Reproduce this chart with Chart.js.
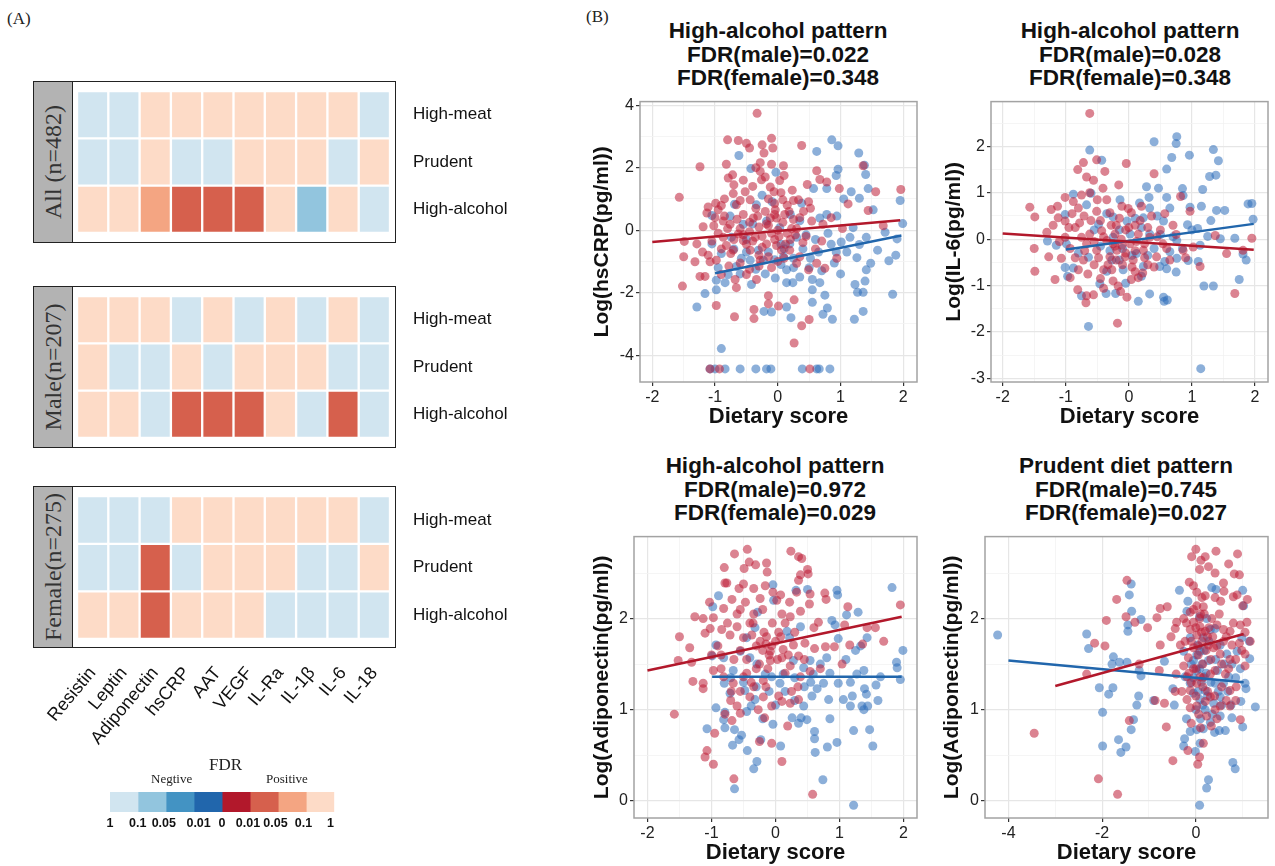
<!DOCTYPE html>
<html>
<head>
<meta charset="utf-8">
<script src="https://cdn.jsdelivr.net/npm/chart.js@4.4.1/dist/chart.umd.min.js"></script>
<style>
  body { margin:0; background:#fff; width:1275px; height:866px; position:relative; overflow:hidden; font-family:"Liberation Sans", Arial, sans-serif; }
  canvas, .abs { position:absolute; }
  .serif { font-family:"Liberation Serif", "Times New Roman", serif; color:#222; }
  .box { position:absolute; left:33px; width:363px; height:162px; border:1.5px solid #222; box-sizing:border-box; }
  .strip { position:absolute; left:0; top:0; bottom:0; width:38px; background:#b3b3b3; border-right:1.5px solid #222; }
  .strip span { position:absolute; left:50%; top:50%; transform:translate(-50%,-50%) rotate(-90deg); white-space:nowrap; font-size:24px; color:#333; }
  .title { position:absolute; width:360px; text-align:center; font-weight:bold; font-size:22.5px; line-height:23.5px; color:#111; }
</style>
</head>
<body>

<div class="abs serif" style="left:7px;top:9px;font-size:17px">(A)</div>
<div class="abs serif" style="left:586px;top:7px;font-size:17px">(B)</div>

<!-- heatmap frames with group strips -->
<div class="box" style="top:81px"><div class="strip serif"><span>All (n=482)</span></div></div>
<div class="box" style="top:286px"><div class="strip serif"><span>Male(n=207)</span></div></div>
<div class="box" style="top:486px"><div class="strip serif"><span>Female(n=275)</span></div></div>

<canvas id="heatAll" width="590" height="162" style="left:0;top:81px"></canvas>
<canvas id="heatMale" width="590" height="162" style="left:0;top:286px"></canvas>
<canvas id="heatFemale" width="590" height="272" style="left:0;top:486px"></canvas>

<div class="abs serif" style="left:209px;top:755px;font-size:17px">FDR</div>
<div class="abs serif" style="left:151px;top:771px;font-size:13px">Negtive</div>
<div class="abs serif" style="left:266px;top:771px;font-size:13px">Positive</div>
<canvas id="legendBar" width="265" height="46" style="left:90px;top:790px"></canvas>

<!-- scatter titles -->
<div class="title" style="left:598px;top:19px">High-alcohol pattern<br>FDR(male)=0.022<br>FDR(female)=0.348</div>
<div class="title" style="left:950px;top:19px">High-alcohol pattern<br>FDR(male)=0.028<br>FDR(female)=0.348</div>
<div class="title" style="left:595px;top:454px">High-alcohol pattern<br>FDR(male)=0.972<br>FDR(female)=0.029</div>
<div class="title" style="left:946px;top:454px">Prudent diet pattern<br>FDR(male)=0.745<br>FDR(female)=0.027</div>

<canvas id="scCrp" width="335" height="340" style="left:590px;top:90px"></canvas>
<canvas id="scIl6" width="333" height="340" style="left:942px;top:90px"></canvas>
<canvas id="scAdipoAlc" width="335" height="341" style="left:590px;top:525px"></canvas>
<canvas id="scAdipoPru" width="335" height="341" style="left:940px;top:525px"></canvas>

<script>
// ---- heatmap data (index into fdrColors) ----
const markers = ['Resistin', 'Leptin', 'Adiponectin', 'hsCRP', 'AAT', 'VEGF', 'IL-Ra', 'IL-1β', 'IL-6', 'IL-18'];
const patterns = ['High-meat', 'Prudent', 'High-alcohol'];
// 0..3 negative (FDR >0.1, 0.05-0.1, 0.01-0.05, <0.01), 4..7 positive (<0.01, 0.01-0.05, 0.05-0.1, >0.1)
const fdrColors = ['#d1e5f0', '#92c5de', '#4393c3', '#2166ac', '#b2182b', '#d6604d', '#f4a582', '#fddbc7'];
const legendTicks = ['1', '0.1', '0.05', '0.01', '0', '0.01', '0.05', '0.1', '1'];
const legendTickPos = [0, 0.99, 1.92, 3.16, 3.99, 4.92, 5.9, 6.9, 7.86];

const allMeat     = [0,0,7,7,7,7,7,7,7,0];
const allPrudent  = [0,0,7,0,0,7,7,7,0,7];
const allAlcohol  = [7,7,6,5,5,5,7,1,7,0];
const maleMeat    = [7,7,7,0,7,0,7,0,7,0];
const malePrudent = [7,0,0,7,0,7,7,7,0,0];
const maleAlcohol = [7,7,0,5,5,5,7,0,5,0];
const femaleMeat    = [0,0,0,7,7,7,7,7,7,0];
const femalePrudent = [0,0,5,0,7,7,7,0,0,7];
const femaleAlcohol = [7,7,5,7,7,7,0,0,0,0];

// ---- scatter data [dietary score, log value] ----
const crpFemale = [[-0.33,3.74],[-0.80,2.89],[-0.63,2.87],[-0.50,2.78],[-0.45,2.63],[-0.10,2.94],[-0.08,2.63],[-0.25,2.73],[-0.22,2.47],[0.38,2.71],
 [-1.24,2.03],[-0.82,2.11],[-0.28,2.16],[-0.10,2.11],[0.09,2.06],[1.36,2.06],[-0.79,1.67],[-0.72,1.77],[-0.28,1.88],[-0.26,1.61],
 [0.03,1.59],[0.47,1.46],[0.62,1.90],[0.67,1.62],[0.78,1.54],[0.98,1.33],[1.56,1.23],[1.96,1.30],[-1.57,1.05],[-1.11,0.74],
 [-0.99,0.86],[-0.90,0.79],[-0.71,1.17],[-0.66,0.81],[-0.52,1.23],[-0.44,0.97],[-0.12,1.38],[-0.06,1.23],[0.08,0.97],[0.23,1.28],
 [0.33,0.97],[0.49,0.91],[1.12,0.84],[1.44,0.63],[-1.13,0.55],[-1.19,0.11],[-1.02,0.14],[-0.87,0.29],[-0.76,0.19],[-0.55,0.50],
 [-0.39,0.39],[-0.20,0.60],[-0.12,0.39],[-0.04,0.65],[-0.02,0.39],[0.11,0.50],[0.25,0.34],[0.41,0.60],[0.54,0.29],[0.72,0.19],
 [1.03,0.05],[1.68,0.14],[-1.49,-0.36],[-1.29,-0.44],[-1.32,-1.01],[-1.50,-0.85],[-1.11,-0.80],[-1.08,-1.01],[-0.98,-0.96],[-0.87,-0.23],
 [-0.82,-0.49],[-0.71,-0.64],[-0.63,-0.12],[-0.55,-0.33],[-0.44,-0.64],[-0.36,-0.23],[-0.28,-0.96],[-0.18,-0.44],[-0.02,-0.49],[0.06,-0.64],
 [0.19,-0.64],[0.30,-1.06],[0.49,-1.27],[0.62,-1.06],[0.75,-1.22],[0.94,-0.90],[-1.24,-1.48],[-1.16,-1.48],[-0.90,-1.42],[-0.68,-1.58],
 [-0.66,-1.84],[-0.50,-1.42],[-0.34,-1.58],[-1.52,-1.79],[-0.98,-2.41],[-0.15,-2.10],[-0.15,-2.36],[0.01,-2.43],[-0.38,-2.54],[-0.38,-2.83],
 [-0.69,-2.77],[0.26,-2.23],[0.38,-3.06],[0.50,-2.86],[0.26,-3.61],[0.51,-4.44],[-0.93,-4.44],[-1.08,-4.44],
 [-0.60,0.05],[-0.45,-0.05],[-0.30,0.10],[-0.15,0.15],[0.00,0.00],[0.15,-0.10],[0.30,0.05],[-0.70,-0.30],[-0.50,-0.45],[-0.25,-0.20],
 [-0.05,-0.30],[0.20,-0.30],[0.40,-0.40],[-0.85,0.45],[-0.35,0.70],[-0.05,0.85],[0.15,0.80],[-0.60,0.95],[-0.40,1.40],[-0.15,1.00],
 [0.05,1.20],[-0.95,-0.10],[-0.75,-0.75],[-0.30,-0.80],[0.10,-0.90],[-0.10,-1.20],[-1.00,0.40],
 [-0.95,0.65],[-0.80,0.05],[-0.65,0.35],[-0.55,-0.15],[-0.45,0.25],[-0.40,-0.35],[-0.32,0.45],[-0.25,-0.55],[-0.18,0.20],[-0.10,-0.10],
 [-0.05,0.50],[0.02,-0.20],[0.08,0.25],[0.12,-0.45],[0.18,0.60],[0.22,0.05],[0.28,-0.15],[0.35,0.40],[0.45,-0.20],[0.52,0.70],
 [0.60,-0.60],[0.70,-0.35],[0.85,0.40],[-0.90,-0.60],[-0.78,-1.15],[-0.60,-1.05],[-0.45,-1.25],[-0.30,-1.15],[-0.15,-0.85],[0.00,-1.00],
 [0.35,-0.85],[-0.70,1.45],[-0.55,1.60],[-0.35,2.00],[-0.20,1.70],[0.10,1.75],[0.25,0.95],[-1.05,-0.35],[-1.20,-0.70],[-0.85,1.00]];
const crpMale = [[0.86,2.89],[0.96,2.70],[1.29,2.47],[0.62,2.52],[-0.62,2.39],[-0.43,1.97],[-0.03,1.85],[0.96,1.95],[0.93,1.75],[1.40,1.78],
 [1.38,2.08],[0.57,1.33],[0.78,1.33],[1.17,1.23],[1.44,1.33],[1.30,1.02],[1.05,1.00],[-0.25,1.12],[-0.69,0.83],[-0.76,0.45],
 [-1.05,0.47],[-0.34,0.81],[-0.09,0.91],[0.38,0.86],[0.94,0.45],[0.78,0.50],[0.67,0.39],[1.20,0.08],[1.52,0.65],[1.95,0.95],
 [1.99,0.21],[1.71,-0.07],[1.90,-0.28],[1.59,-0.64],[1.30,-0.46],[1.41,-0.23],[1.15,-0.23],[1.01,-0.38],[0.93,-0.70],[1.26,-0.88],
 [1.48,-1.06],[1.41,-1.27],[1.77,-0.98],[1.88,-0.80],[1.83,-2.05],[1.23,-1.74],[1.39,-1.63],[1.36,-1.99],[1.27,-1.99],[1.36,-2.60],
 [1.22,-2.85],[0.87,-2.85],[0.79,-2.49],[0.72,-2.69],[0.75,-2.08],[0.67,-1.68],[0.55,-1.91],[0.55,-2.31],[0.55,-1.58],[0.52,-0.90],
 [0.30,-0.23],[0.19,-0.44],[0.09,-0.85],[0.14,-1.27],[-0.04,-1.53],[0.14,-1.68],[0.24,-1.68],[0.21,-2.80],[0.14,-2.46],[-0.22,-2.60],
 [-0.10,-2.62],[-0.23,-0.96],[-0.31,-0.64],[-0.44,-0.96],[-0.42,-1.74],[-0.58,-0.90],[-0.66,-1.16],[-0.79,-1.42],[-0.84,-1.68],[-0.98,-1.60],
 [-0.98,-1.91],[-1.16,-2.03],[-1.29,-2.46],[-0.90,-3.79],[-1.05,-0.44],[-0.74,-0.23],[-0.55,0.19],[-0.18,0.29],[0.03,0.08],
 [-1.08,-4.44],[-1.00,-4.44],[-0.84,-4.44],[-0.60,-4.44],[-0.35,-4.44],[-0.18,-4.44],[-0.11,-4.44],[0.39,-4.44],[0.62,-4.44],[0.66,-4.44],[0.83,-4.44],
 [0.40,-0.60],[0.05,-0.45],[-0.15,-0.70],[0.60,-0.30],[0.80,-0.10],[0.35,0.30],[-0.50,-0.30],[0.25,-1.20],[0.70,-1.30],[1.00,-1.40],
 [-0.90,-0.75],[-0.70,-0.60],[-0.60,-1.40],[-0.35,-1.25],[-0.20,-1.40],[-0.05,-0.95],[0.05,-1.10],[0.25,-0.90],[0.35,-1.50],[0.45,-0.15],
 [0.65,-0.70],[0.85,-0.45],[1.10,-0.70],[0.20,0.50],[-0.40,0.20],[0.10,-0.60],[0.50,-1.20],[-0.95,-1.20],[-0.50,-0.70],[0.90,-1.05]];
const crpFemaleFit = [[-2,-0.38],[1.95,0.32]];
const crpMaleFit = [[-1,-1.38],[1.97,-0.17]];

const il6Female = [[-0.62,2.71],[-0.81,1.50],[-0.72,1.65],[-0.67,1.34],[-0.56,1.27],[-0.51,1.71],[-0.38,1.46],[-0.04,1.63],[-0.16,1.17],[-0.41,1.10],
 [-0.62,1.00],[-1.01,0.90],[-0.88,0.81],[-0.75,0.95],[0.40,1.41],[-1.57,0.69],[-1.49,0.48],[-1.23,0.64],[-1.13,0.71],[-1.12,0.46],
 [-1.01,0.39],[-0.80,0.67],[-0.71,0.50],[-0.51,0.60],[-0.30,0.57],[-0.11,0.71],[-0.01,0.66],[0.04,0.57],[0.20,0.71],[0.36,0.50],
 [0.57,0.55],[0.82,0.92],[0.97,0.60],[-1.30,0.15],[-1.27,-0.38],[-1.50,-0.20],[-1.49,-0.69],[-1.17,-0.87],[-1.07,-0.41],[-1.01,0.04],
 [-0.93,-0.20],[-0.85,0.25],[-0.75,0.04],[-0.67,-0.10],[-0.80,-0.66],[-0.93,-0.83],[-0.72,-0.45],[-0.62,0.11],[-0.51,-0.24],[-0.43,0.18],
 [-0.35,-0.03],[-0.30,-0.38],[-0.22,0.11],[-0.19,-0.24],[-0.11,-0.13],[-0.06,-0.38],[0.02,-0.10],[0.07,-0.45],[0.15,0.11],[0.23,-0.24],
 [0.33,0.04],[0.44,-0.38],[0.54,-0.10],[0.65,-0.45],[0.86,-0.24],[1.02,-0.17],[1.13,-0.59],[1.37,0.08],[1.55,-0.31],[1.81,-0.24],
 [1.95,0.02],[1.68,-1.17],[-0.81,-1.09],[-0.67,-1.22],[-0.56,-1.20],[-0.68,-1.37],[-0.40,-1.06],[-0.17,-1.01],[-0.13,-1.13],[-0.03,-1.25],
 [0.04,-0.87],[0.15,-0.83],[0.22,-0.73],[-0.18,-1.81],[-0.40,-0.66],[-0.27,-0.66],
 [-0.20,0.30],[-0.05,0.20],[0.10,0.30],[-0.45,0.40],[-0.25,-0.10],[-0.10,-0.55],[0.10,-0.25],[0.30,-0.55],[-0.55,-0.55],[-0.35,0.85],
 [0.50,0.20],[0.75,0.10],
 [-0.95,0.25],[-0.85,-0.40],[-0.78,0.35],[-0.70,-0.25],[-0.60,0.40],[-0.55,-0.05],[-0.48,-0.40],[-0.40,0.05],[-0.33,-0.55],[-0.28,0.30],
 [-0.22,-0.15],[-0.15,0.45],[-0.12,0.00],[-0.05,-0.30],[0.00,0.25],[0.05,-0.60],[0.12,-0.05],[0.18,0.40],[0.25,-0.40],[0.30,0.25],
 [0.40,-0.60],[0.45,0.05],[0.60,-0.20],[0.70,0.30],[0.90,-0.40],[-1.10,-0.05],[-1.20,0.30],[-0.65,-0.75],[-0.45,-0.85],[-0.25,-0.90],
 [0.10,-0.70],[-0.90,0.55],[-0.50,0.85],[-0.20,-0.45],[0.25,-0.10]];
const il6Male = [[0.76,2.21],[0.75,2.06],[0.40,2.10],[-0.62,1.92],[-0.43,1.70],[0.68,1.76],[0.96,1.81],[1.34,1.93],[1.42,1.69],[1.28,1.35],
 [1.38,1.38],[0.60,1.51],[0.28,1.13],[0.47,1.10],[1.17,1.07],[0.86,0.94],[0.85,1.09],[0.32,0.90],[0.17,0.78],[-0.14,0.85],
 [-0.88,0.97],[-0.67,0.74],[-0.60,0.99],[-0.35,0.55],[-0.25,0.48],[-0.03,0.39],[0.23,0.46],[0.33,0.67],[0.55,0.39],[0.65,0.67],
 [0.97,0.69],[1.15,0.71],[1.39,0.62],[1.52,0.62],[1.89,0.76],[1.95,0.77],[1.97,0.43],[0.93,0.31],[1.09,0.23],[1.25,0.06],
 [1.45,0.01],[1.68,0.02],[1.81,-0.32],[1.86,-0.45],[1.75,-0.87],[1.34,-1.01],[1.19,-1.01],[1.14,-2.79],[1.13,-0.13],[0.94,-0.46],
 [1.10,-0.48],[0.76,-0.03],[0.65,-0.27],[0.76,-0.41],[0.57,-0.48],[0.49,-0.59],[0.60,-0.64],[0.75,-0.71],[0.55,-1.25],[0.56,-1.34],
 [0.61,-1.31],[0.33,-1.18],[0.15,-1.34],[0.23,-0.59],[0.12,-0.31],[-0.09,-0.66],[-0.15,-0.45],[-0.27,-0.45],[-0.35,-0.69],[-0.46,-0.96],
 [-0.36,-1.17],[-0.21,-1.17],[-0.64,-0.39],[-0.88,-0.62],[-1.01,-0.61],[-0.97,-0.80],[-0.75,-1.22],[-0.64,-1.88],[-0.99,-0.10],[-1.15,-0.13],
 [-1.29,-0.04],[-1.01,0.53],[-0.48,0.32],[-0.25,0.04],[0.02,0.11],[0.33,0.11],
 [0.40,-0.20],[0.20,0.25],[-0.10,-0.20],[0.50,0.10],[-0.45,-0.15],
 [-0.80,-0.30],[-0.55,0.20],[-0.30,-0.25],[-0.15,0.20],[0.05,-0.35],[0.10,0.45],[0.30,-0.35],[0.45,0.50],[0.70,0.05],[0.85,-0.20],
 [1.00,0.20],[0.20,-0.80],[-0.05,-0.95],[0.60,0.90],[1.30,0.40]];
const il6FemaleFit = [[-2,0.12],[1.98,-0.23]];
const il6MaleFit = [[-1,-0.22],[1.98,0.33]];

const adipoAlcFemale = [[-0.44,2.76],[-0.64,2.71],[0.24,2.74],[0.36,2.68],[0.41,2.66],[-0.41,2.62],[-0.31,2.59],[-0.14,2.61],[-0.80,2.56],[-0.49,2.55],
 [0.50,2.54],[0.39,2.48],[0.51,2.49],[-0.13,2.51],[-0.79,2.39],[-0.76,2.39],[-0.50,2.38],[-0.57,2.33],[-0.34,2.33],[-0.16,2.36],
 [0.36,2.42],[-0.04,2.29],[0.08,2.26],[0.33,2.29],[0.54,2.27],[0.77,2.28],[0.79,2.21],[-1.03,2.18],[-0.68,2.21],[-0.47,2.18],
 [-0.24,2.22],[0.02,2.20],[0.22,2.18],[0.39,2.08],[0.53,2.16],[1.13,2.13],[1.95,2.15],[-1.26,2.02],[-1.13,2.00],[-0.97,2.01],
 [-0.81,2.11],[-0.60,2.05],[-0.34,2.05],[0.23,2.02],[0.67,1.96],[1.08,1.93],[1.43,1.90],[1.56,1.90],[1.69,1.75],[-1.50,1.80],
 [-1.34,1.68],[-1.10,1.84],[-1.02,1.89],[-0.84,1.88],[-0.71,1.82],[-0.60,1.91],[-0.50,1.79],[-0.37,1.82],[-0.24,1.75],[-0.14,1.80],
 [-0.06,1.70],[-0.08,1.64],[0.00,1.75],[0.12,1.66],[0.28,1.71],[0.46,1.73],[0.61,1.67],[0.78,1.69],[0.92,1.69],[1.16,1.71],
 [1.36,1.72],[-1.52,1.54],[-1.31,1.52],[-1.29,1.31],[-1.13,1.29],[-1.13,1.23],[-0.97,1.43],[-0.81,1.36],[-0.66,1.29],[-0.50,1.36],
 [-0.34,1.25],[-0.19,1.32],[-0.08,1.54],[0.10,1.57],[0.23,1.48],[0.39,1.36],[0.54,1.42],[0.36,1.59],[1.04,1.50],[-0.69,1.20],
 [-0.60,1.04],[-0.40,1.14],[-0.27,1.00],[-0.19,1.14],[-0.06,1.04],[0.10,1.09],[0.23,1.07],[0.36,1.11],[-0.79,0.95],[-0.68,0.88],
 [-0.55,0.96],[-0.17,0.91],[0.19,0.82],[-1.58,0.95],[-0.95,0.74],[-1.07,0.55],[-1.10,0.48],[-0.97,0.40],[-0.65,0.24],[-0.25,0.65],
 [-0.06,0.63],[0.10,0.43],[0.58,0.07],
 [-0.15,1.72],[-0.10,1.60],[-0.20,1.65],[-0.45,1.55],[-0.30,1.45],[0.05,1.85],[-0.55,1.65],[-0.85,1.60],[-0.35,1.95],[0.15,1.95],
 [-0.90,1.70],[-0.75,1.95],[-0.65,1.55],[-0.55,2.10],[-0.45,1.40],[-0.40,1.95],[-0.30,1.70],[-0.25,1.50],[-0.18,1.85],[-0.12,1.45],
 [-0.05,1.95],[0.03,1.55],[0.08,1.80],[0.15,1.40],[0.20,1.60],[0.30,1.85],[0.35,1.25],[0.45,1.55],[-0.85,1.45],[-0.70,1.10],
 [-0.55,1.20],[-0.38,1.30],[-0.15,1.25],[0.05,1.15],[0.25,1.20],[0.60,1.90],[0.70,1.45],[-1.00,1.60],[-0.20,2.10],[0.10,2.05]];
const adipoAlcMale = [[1.82,2.34],[0.96,2.31],[0.97,2.26],[0.50,2.32],[0.32,2.31],[-0.04,2.37],[-0.03,2.20],[-0.89,2.25],[-0.98,2.13],[-0.28,2.07],
 [-0.32,1.90],[-0.45,1.79],[0.18,1.86],[0.22,1.79],[0.39,1.91],[0.88,1.98],[0.93,1.93],[0.98,1.78],[1.29,2.07],[1.11,2.04],
 [1.43,1.79],[1.33,1.70],[1.99,1.65],[1.89,1.52],[1.90,1.46],[1.95,1.33],[1.64,1.36],[1.57,1.27],[1.38,1.43],[1.27,1.39],
 [1.17,1.30],[1.39,1.23],[1.42,1.17],[1.20,1.15],[1.06,1.11],[1.17,1.04],[1.35,1.04],[1.38,1.00],[1.44,1.04],[0.98,1.29],
 [0.83,1.11],[0.85,0.90],[0.49,0.89],[0.40,0.91],[0.36,0.85],[0.26,0.91],[0.44,1.04],[0.57,1.15],[0.65,1.23],[0.75,1.29],
 [0.80,1.57],[0.70,1.50],[0.59,1.39],[0.54,1.54],[0.44,1.46],[0.28,1.54],[0.12,1.39],[0.07,1.29],[-0.06,1.36],[-0.16,1.39],
 [-0.29,1.50],[-0.40,1.57],[-0.55,1.64],[-0.66,1.43],[-0.81,1.57],[-0.93,1.71],[-0.99,1.59],[-0.80,1.29],[-0.71,1.18],[-0.48,1.21],
 [-0.38,1.04],[-0.32,1.11],[-0.45,0.98],[-0.79,0.97],[-0.93,1.02],[-0.81,0.89],[-0.79,0.80],[-0.64,0.78],[-0.53,0.72],[-0.04,0.84],
 [-1.07,0.79],[-0.67,0.61],[-0.57,0.67],[-0.44,0.55],[-0.23,0.67],[0.08,0.60],[-0.29,0.43],[-0.34,0.35],[-0.64,0.13],[0.61,0.76],
 [0.61,0.68],[0.62,0.53],[0.81,0.59],[0.96,0.64],[1.22,0.77],[1.47,0.78],[1.52,0.60],[0.74,0.23],[1.22,-0.05],
 [-0.70,1.35],[-0.50,1.30],[-0.30,1.25],[-0.10,1.20],[0.15,1.20],[0.30,1.35],[0.45,1.25],[0.55,1.30],[0.85,1.40],[1.10,1.55],
 [1.25,1.65],[-0.20,0.90],[0.00,1.05],[0.30,1.10],[1.60,1.10]];
const adipoAlcFemaleFit = [[-2,1.43],[1.97,2.02]];
const adipoAlcMaleFit = [[-0.99,1.36],[1.97,1.36]];

const adipoPruFemale = [[-3.45,0.74],[-2.33,1.39],[-2.16,1.73],[-1.94,1.70],[-1.91,1.98],[-2.08,0.24],[-1.67,0.07],[-1.69,2.21],[-1.47,2.42],[-1.49,2.02],
 [-1.30,1.96],[-1.03,1.90],[-1.42,0.88],[-1.21,1.50],[-0.83,2.01],[-0.76,2.11],[-0.61,2.13],[-0.76,1.71],[-0.78,1.43],[-0.87,1.10],
 [-0.67,1.07],[-0.63,0.81],[-0.49,0.44],[-0.41,1.96],[-0.44,1.89],[-0.42,1.39],[-0.44,1.20],[-0.53,1.80],[-0.33,1.71],[-0.26,2.00],
 [-0.14,2.40],[0.00,2.76],[-0.09,2.68],[0.11,2.64],[0.20,2.68],[0.43,2.74],[0.27,2.57],[0.08,2.54],[0.41,2.50],[0.70,2.60],
 [0.89,2.71],[0.82,2.49],[0.93,2.48],[0.59,2.39],[0.41,2.23],[0.53,2.19],[0.80,2.24],[0.88,2.26],[1.10,2.21],[1.00,2.14],
 [-0.05,2.36],[0.02,2.29],[0.13,2.23],[0.02,2.14],[0.16,2.13],[-0.12,2.07],[-0.05,1.96],[0.09,1.91],[0.20,1.86],[0.02,1.82],
 [-0.12,1.88],[-0.23,1.75],[0.34,2.00],[0.45,1.93],[0.59,1.88],[0.73,1.86],[0.95,1.93],[1.09,1.96],[0.59,1.75],[0.77,1.71],
 [0.93,1.73],[1.16,1.75],[1.05,1.61],[1.05,1.48],[0.73,1.55],[0.52,1.61],[0.38,1.68],[0.27,1.71],[0.13,1.75],[-0.05,1.68],
 [-0.16,1.57],[-0.26,1.48],[-0.19,1.36],[-0.12,1.21],[-0.19,1.11],[-0.12,1.02],[0.02,1.04],[0.06,0.95],[0.20,1.09],[0.31,1.14],
 [0.41,1.00],[0.52,1.04],[0.73,1.04],[0.86,1.25],[0.73,1.21],[0.63,1.39],[0.41,1.43],[0.31,1.39],[0.02,1.29],[0.09,1.36],
 [0.23,0.93],[0.33,0.82],[0.16,0.63],[-0.17,0.55],[0.08,0.48],[0.04,0.40],[0.95,0.89],
 [0.05,1.60],[0.15,1.50],[-0.05,1.45],[0.10,2.05],[0.25,1.80],[-0.10,1.30],[0.00,1.15],[0.15,1.25],
 [-0.20,1.95],[-0.10,1.75],[-0.05,2.10],[0.00,1.90],[0.05,1.70],[0.08,2.00],[0.12,1.85],[0.18,2.05],[0.22,1.65],[0.28,1.90],
 [0.32,1.55],[0.36,1.80],[0.45,1.70],[0.50,2.05],[0.55,1.50],[0.65,1.80],[0.70,1.45],[0.80,1.95],[0.85,1.55],[0.98,1.65],
 [1.05,1.85],[-0.15,1.40],[0.00,1.45],[0.15,1.35],[0.25,1.20],[0.40,1.15],[0.55,1.25],[0.65,1.10],[0.85,1.10],[-0.30,1.20],
 [-0.10,0.85],[0.10,0.80],[0.45,0.90],[0.20,2.25],[0.60,2.30]];
const adipoPruMale = [[-4.23,1.82],[-2.33,1.83],[-2.29,1.67],[-1.38,2.38],[-1.42,2.26],[-1.37,2.08],[-1.17,1.99],[-1.45,1.93],[-1.45,1.86],[-1.76,1.58],
 [-1.63,1.52],[-1.47,1.52],[-1.79,1.50],[-1.21,1.43],[-1.17,1.37],[-2.06,1.24],[-1.86,1.17],[-1.77,1.24],[-1.22,1.15],[-1.99,0.97],
 [-1.26,1.05],[-1.33,0.89],[-1.38,0.78],[-1.65,0.67],[-1.99,0.60],[-1.60,0.53],[-1.49,0.59],[-0.90,1.10],[-0.67,1.53],[-0.46,1.05],
 [-0.49,1.23],[-0.35,2.31],[-0.17,2.19],[-0.19,2.08],[-0.12,1.79],[-0.26,1.64],[-0.05,1.54],[-0.23,1.36],[-0.12,1.29],[0.02,1.43],
 [0.09,1.64],[0.16,1.79],[0.23,2.00],[0.34,2.34],[0.43,2.32],[0.08,2.02],[0.31,1.88],[0.41,1.89],[-0.05,1.18],[0.09,1.11],
 [0.20,1.00],[0.38,1.07],[0.52,1.14],[0.59,1.29],[0.70,1.36],[0.77,1.50],[0.88,1.64],[0.98,1.79],[1.02,2.14],[1.00,2.31],
 [1.14,1.75],[1.15,1.56],[1.05,1.29],[1.07,1.23],[0.96,1.09],[1.00,0.81],[1.27,1.03],[0.77,0.91],[0.50,0.77],[0.63,0.77],
 [0.31,0.86],[0.16,0.79],[0.02,0.78],[-0.12,0.76],[-0.24,0.68],[-0.26,0.60],[-0.01,0.54],[0.09,0.63],[0.79,0.42],[0.84,0.35],
 [0.27,0.23],[0.23,0.14],[0.08,-0.05],[0.18,1.36],[0.27,1.54],[0.46,1.43],[0.52,1.71],[0.66,1.61],[0.04,1.71],[0.13,1.50],
 [0.20,1.21],[0.41,1.29],[0.52,0.93],
 [-0.10,1.50],[-0.05,1.35],[0.02,1.60],[0.05,1.20],[0.08,1.45],[0.12,1.30],[0.15,1.05],[0.18,1.65],[0.22,1.40],[0.25,1.15],
 [0.28,1.75],[0.32,1.30],[0.35,0.95],[0.42,1.55],[0.48,1.20],[0.55,1.05],[0.60,1.50],[0.68,1.20],[0.75,1.05],[0.85,1.35],
 [0.95,1.45],[0.10,0.90],[0.00,1.00],[-0.20,0.90],[0.40,0.75]];
const adipoPruFemaleFit = [[-3.0,1.26],[1.02,1.83]];
const adipoPruMaleFit = [[-4,1.54],[1.02,1.30]];

// ---- common ----
const sans = '"Liberation Sans", Arial, sans-serif';
Chart.defaults.font.family = sans;
Chart.defaults.animation = false;

const toXY = pts => pts.map(p => ({x: p[0], y: p[1]}));
const onStep = (v, s) => Math.abs(v / s - Math.round(v / s)) < 1e-6;

// grey panel border like ggplot
const frame = {
  id: 'frame',
  afterDraw(chart) {
    const a = chart.chartArea, c = chart.ctx;
    c.save();
    c.strokeStyle = '#a3a3a3';
    c.lineWidth = 1.5;
    c.strokeRect(a.left, a.top, a.right - a.left, a.bottom - a.top);
    c.restore();
  }
};

function axis(min, max, step, every, title, titleSize, fit) {
  const major = c => c.tick && onStep(c.tick.value, every);
  return {
    type: 'linear', min, max,
    border: {display: false},
    grid: {
      color: c => major(c) ? '#e6e6e6' : '#f2f2f2',
      lineWidth: c => major(c) ? 1.2 : 0.8,
      tickColor: c => major(c) ? '#333' : 'rgba(0,0,0,0)',
      tickLength: 4, tickWidth: 1.2
    },
    ticks: {
      stepSize: step, includeBounds: false, autoSkip: false, maxRotation: 0, minRotation: 0,
      padding: 2, color: '#222', font: {size: 16},
      callback: v => onStep(v, every) ? String(Math.round(v)) : ''
    },
    title: {display: true, text: title, color: '#111', padding: 0, font: {size: titleSize, weight: 'bold'}},
    afterFit: fit
  };
}

function makeScatter(id, o) {
  new Chart(document.getElementById(id), {
    type: 'scatter',
    data: {
      datasets: [
        {data: toXY(o.femaleFit), showLine: true, borderColor: '#b2182b', borderWidth: 2.5, pointRadius: 0},
        {data: toXY(o.maleFit), showLine: true, borderColor: '#2166ac', borderWidth: 2.5, pointRadius: 0},
        {data: toXY(o.female), backgroundColor: 'rgba(190,30,55,0.55)', pointRadius: 4.5, borderWidth: 0},
        {data: toXY(o.male), backgroundColor: 'rgba(45,110,185,0.55)', pointRadius: 4.5, borderWidth: 0}
      ]
    },
    options: {
      responsive: false,
      layout: {padding: {top: 4, right: o.padRight, left: 0, bottom: 0}},
      plugins: {legend: {display: false}, tooltip: {enabled: false}},
      scales: {
        x: axis(o.x[0], o.x[1], o.x[2], o.x[3], 'Dietary score', 22, s => { s.height = 48; }),
        y: axis(o.y[0], o.y[1], o.y[2], o.y[3], o.yTitle, 21, s => { s.width = o.yWidth; })
      }
    },
    plugins: [frame]
  });
}

function makeHeat(id, meat, prudent, alcohol, pad, showX) {
  const rows = [alcohol, prudent, meat]; // stacked bottom to top
  new Chart(document.getElementById(id), {
    type: 'bar',
    data: {
      labels: markers,
      datasets: rows.map(r => ({
        data: markers.map(() => 1),
        backgroundColor: r.map(i => fdrColors[i]),
        borderColor: '#ffffff', borderWidth: 1.5, borderSkipped: false,
        categoryPercentage: 1, barPercentage: 1
      }))
    },
    options: {
      responsive: false,
      layout: {padding: {left: 77, right: 0, top: pad[0], bottom: pad[1]}},
      plugins: {legend: {display: false}, tooltip: {enabled: false}},
      scales: {
        x: {
          stacked: true, display: showX,
          grid: {display: false, drawTicks: false}, border: {display: false},
          ticks: {minRotation: 50, maxRotation: 50, autoSkip: false, padding: 24, color: '#111', font: {size: 18}},
          afterFit: s => { if (showX) s.height = 119; }
        },
        y: {stacked: true, display: false, min: 0, max: 3},
        rows: {
          type: 'category', labels: patterns, position: 'right', offset: true,
          // gap to the labels comes from an invisible tick length, so no extra vertical padding is added
          grid: {display: false, drawTicks: true, tickLength: 23}, border: {display: false},
          ticks: {padding: 0, color: '#111', font: {size: 17}},
          afterFit: s => { s.width = 200; }
        }
      }
    }
  });
}

makeHeat('heatAll', allMeat, allPrudent, allAlcohol, [7, 7], false);
makeHeat('heatMale', maleMeat, malePrudent, maleAlcohol, [5, 8], false);
makeHeat('heatFemale', femaleMeat, femalePrudent, femaleAlcohol, [7, 0], true);

// colour key
new Chart(document.getElementById('legendBar'), {
  type: 'bar',
  data: {
    labels: ['FDR'],
    datasets: fdrColors.map(c => ({data: [1], backgroundColor: c, borderWidth: 0, categoryPercentage: 1, barPercentage: 1}))
  },
  options: {
    indexAxis: 'y',
    responsive: false,
    layout: {padding: {left: 20, right: 20.7, top: 2, bottom: 0}},
    plugins: {legend: {display: false}, tooltip: {enabled: false}},
    scales: {
      x: {
        stacked: true, min: 0, max: 8,
        grid: {display: false, drawTicks: false}, border: {display: false},
        afterBuildTicks: s => { s.ticks = legendTickPos.map(v => ({value: v})); },
        ticks: {autoSkip: false, maxRotation: 0, padding: 4, color: '#111',
          font: {size: 12.5, weight: 'bold'},
          callback: (v, i) => legendTicks[i]},
        afterFit: s => { s.height = 24; }
      },
      y: {stacked: true, display: false}
    }
  }
});

makeScatter('scCrp', {
  female: crpFemale, male: crpMale, femaleFit: crpFemaleFit, maleFit: crpMaleFit,
  x: [-2.196, 2.218, 0.5, 1], y: [-4.86, 4.115, 1, 2],
  yTitle: 'Log(hsCRP(pg/ml))', yWidth: 50, padRight: 8
});
makeScatter('scIl6', {
  female: il6Female, male: il6Male, femaleFit: il6FemaleFit, maleFit: il6MaleFit,
  x: [-2.185, 2.206, 0.5, 1], y: [-3.078, 2.965, 0.5, 1],
  yTitle: 'Log(IL-6(pg/ml))', yWidth: 49, padRight: 7
});
makeScatter('scAdipoAlc', {
  female: adipoAlcFemale, male: adipoAlcMale, femaleFit: adipoAlcFemaleFit, maleFit: adipoAlcMaleFit,
  x: [-2.21, 2.21, 0.5, 1], y: [-0.19, 2.90, 0.5, 1],
  yTitle: 'Log(Adiponectin(pg/ml))', yWidth: 44, padRight: 8
});
makeScatter('scAdipoPru', {
  female: adipoPruFemale, male: adipoPruMale, femaleFit: adipoPruFemaleFit, maleFit: adipoPruMaleFit,
  x: [-4.5, 1.54, 1, 2], y: [-0.19, 2.90, 0.5, 1],
  yTitle: 'Log(Adiponectin(pg/ml))', yWidth: 45, padRight: 7
});
</script>
</body>
</html>
